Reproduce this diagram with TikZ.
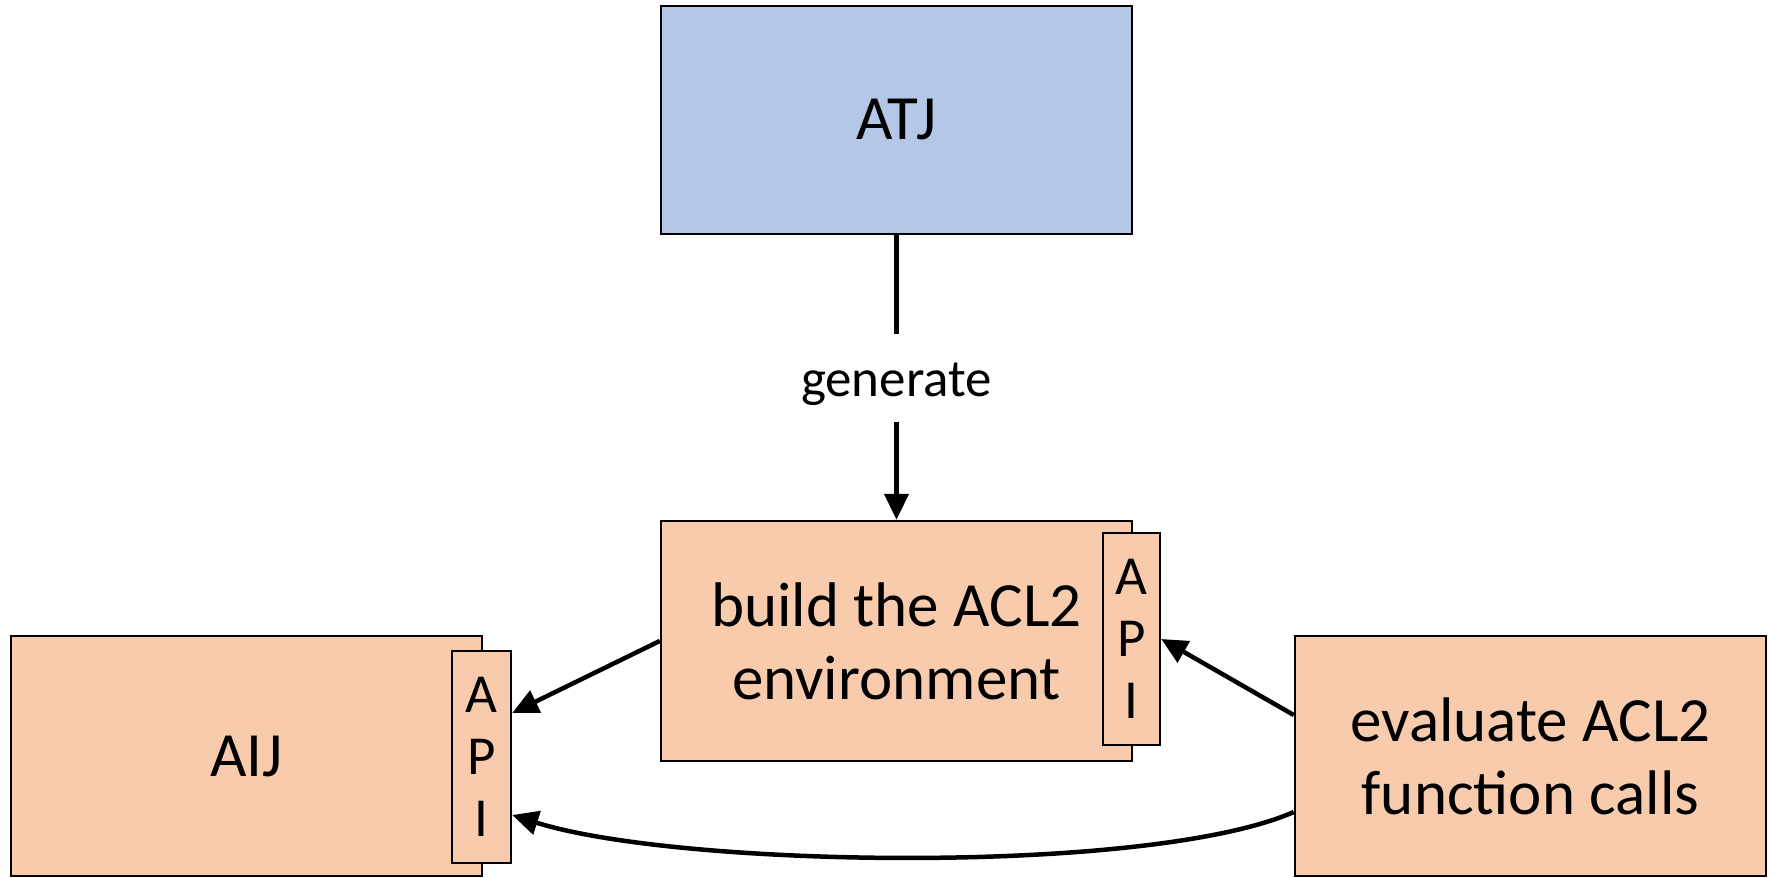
\documentclass[tikz,border=0pt]{standalone}
\usepackage{fontspec}
\setmainfont{Carlito}
\usetikzlibrary{arrows.meta,calc}
\definecolor{atjblue}{HTML}{B4C7E7}
\definecolor{boxorange}{HTML}{F8CBAD}
\begin{document}
\begin{tikzpicture}[x=1pt,y=-1pt,
  mainbox/.style={draw=black,line width=2.5pt,minimum width=471pt,minimum height=240pt,inner sep=0pt,align=center,font=\fontsize{63}{73}\selectfont},
  apitab/.style={draw=black,line width=2.5pt,fill=boxorange,minimum width=57pt,minimum height=212pt,inner sep=0pt,align=center,font=\fontsize{55}{62}\selectfont},
  conn/.style={line width=4.5pt,-{Triangle[length=26pt,width=24pt]}},
  plain/.style={line width=4.5pt}]
\useasboundingbox (0,0) rectangle (1775,878);
\node[mainbox,fill=atjblue,minimum height=228pt] (atj) at (896.5,120) {ATJ};
\node[mainbox,fill=boxorange] (build) at (896.5,641) {build the ACL2\\environment};
\node[apitab] (tabB) at (1131.5,639) {A\\P\\I};
\node[mainbox,fill=boxorange] (aij) at (246.5,756) {AIJ};
\node[apitab,minimum width=59pt] (tabA) at (481.5,757) {A\\P\\I};
\node[mainbox,fill=boxorange] (eval) at (1530.5,756) {evaluate ACL2\\function calls};
\node[font=\fontsize{53}{60}\selectfont,inner sep=0pt,text height=61.5pt,text depth=25.5pt] (gen) at (896.5,378) {generate};
\draw[plain] (atj.south) -- (gen.north);
\draw[conn] (gen.south) -- (build.north);
\draw[conn] (build.west) -- ($(tabA.east)+(0,-44)$);
\draw[conn] ($(eval.west)+(0,-41)$) -- (tabB.east);
\draw[conn] ($(eval.west)+(0,56)$) .. controls (1150,875) and (680,868) .. ($(tabA.east)+(0,58)$);
\end{tikzpicture}
\end{document}
